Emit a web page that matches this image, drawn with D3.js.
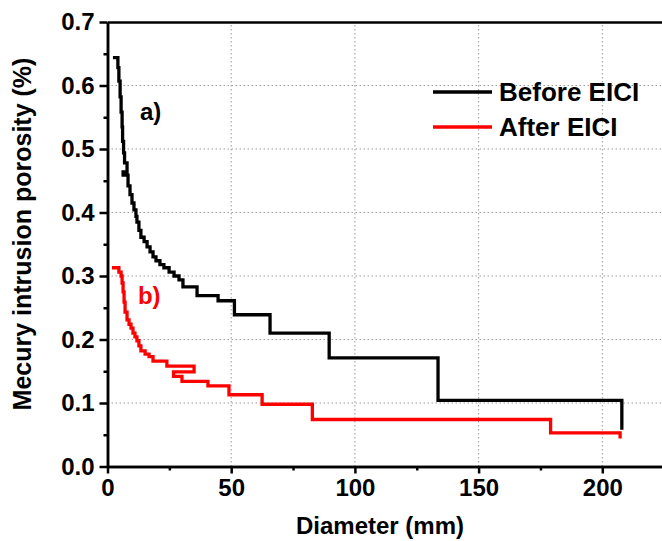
<!DOCTYPE html>
<html>
<head>
<meta charset="utf-8">
<script src="https://cdn.jsdelivr.net/npm/d3@7"></script>
<style>
  body { margin: 0; background: #fff; }
  text { font-family: "Liberation Sans", Arial, sans-serif; font-weight: bold; }
</style>
</head>
<body>
<svg id="chart" width="662" height="541"></svg>
<script>
// step curves (left end of each level)
const beforeDiameter = [2.2, 4.2, 4.6, 5.1, 5.5, 5.9, 6.1, 6.5, 6.9, 7.9, 6.3, 8.3, 9.1, 9.9, 10.7, 11.5, 11.9, 12.7, 13.5, 14.8, 16.0, 17.2, 18.4, 19.6, 21.2, 22.8, 24.9, 26.9, 28.9, 30.5, 36.2, 44.7, 51.3, 65.7, 89.6, 133.6, 207.9];
const beforePorosity = [0.644, 0.628, 0.607, 0.582, 0.558, 0.535, 0.512, 0.494, 0.478, 0.464, 0.459, 0.442, 0.428, 0.415, 0.404, 0.394, 0.385, 0.372, 0.361, 0.354, 0.346, 0.338, 0.330, 0.324, 0.318, 0.313, 0.306, 0.300, 0.294, 0.283, 0.269, 0.261, 0.239, 0.210, 0.171, 0.104, 0.058];

const afterDiameter = [1.8, 4.6, 5.5, 5.9, 6.3, 6.7, 7.1, 7.9, 8.7, 9.5, 10.3, 11.1, 11.9, 12.7, 13.5, 15.2, 16.8, 18.4, 24.0, 35.0, 26.7, 30.1, 40.6, 49.1, 62.5, 82.8, 179.1, 207.2];
const afterPorosity = [0.313, 0.306, 0.300, 0.289, 0.275, 0.259, 0.243, 0.231, 0.224, 0.218, 0.210, 0.204, 0.198, 0.190, 0.182, 0.177, 0.173, 0.166, 0.158, 0.149, 0.142, 0.134, 0.127, 0.113, 0.098, 0.074, 0.053, 0.044];

const xTicks = [0, 50, 100, 150, 200];
const xMinorTicks = [25, 75, 125, 175, 225];
const yTicks = [0, 0.1, 0.2, 0.3, 0.4, 0.5, 0.6, 0.7];
const yMinorTicks = [0.05, 0.15, 0.25, 0.35, 0.45, 0.55, 0.65];

const seriesNames = ["Before EICI", "After EICI"];
const seriesColors = ["#000000", "#ff0000"];

const width = 662;
const height = 541;
const margin = { left: 107.5, top: 22, bottom: 74.5 };

const svg = d3.select("#chart");

const x = d3.scaleLinear().domain([0, 225]).range([margin.left, margin.left + 225 * 2.474]);
const y = d3.scaleLinear().domain([0, 0.7]).range([height - margin.bottom, margin.top]);

// dotted grid
svg.append("g")
  .selectAll("line")
  .data(xTicks.slice(1))
  .enter()
  .append("line")
  .attr("x1", (d) => x(d))
  .attr("x2", (d) => x(d))
  .attr("y1", y(0))
  .attr("y2", y(0.7))
  .attr("stroke", "#999")
  .attr("stroke-width", 1)
  .attr("stroke-dasharray", "1.5,2.5");

svg.append("g")
  .selectAll("line")
  .data(yTicks.slice(1, -1))
  .enter()
  .append("line")
  .attr("x1", x(0))
  .attr("x2", width)
  .attr("y1", (d) => y(d))
  .attr("y2", (d) => y(d))
  .attr("stroke", "#999")
  .attr("stroke-width", 1)
  .attr("stroke-dasharray", "1.5,2.5");

// curves
const line = d3.line()
  .x((d) => x(d[0]))
  .y((d) => y(d[1]))
  .curve(d3.curveStepAfter);

const series = [
  d3.zip(beforeDiameter, beforePorosity),
  d3.zip(afterDiameter, afterPorosity)
];

svg.append("g")
  .selectAll("path")
  .data(series)
  .enter()
  .append("path")
  .attr("d", line)
  .attr("fill", "none")
  .attr("stroke", (d, i) => seriesColors[i])
  .attr("stroke-width", 3.3)
  .attr("stroke-linejoin", "miter");

// axes
function styleAxis(g) {
  g.select(".domain").attr("stroke", "#000").attr("stroke-width", 2.5);
  g.selectAll(".tick line").attr("stroke", "#000").attr("stroke-width", 2.5);
  g.selectAll(".tick text").attr("fill", "#000").attr("font-size", 24).attr("font-family", null);
}

svg.append("g")
  .attr("transform", `translate(0,${y(0)})`)
  .call(d3.axisBottom(x).tickValues(xTicks).tickSize(7).tickSizeOuter(0).tickPadding(5))
  .call(styleAxis);

svg.append("g")
  .attr("transform", `translate(0,${y(0)})`)
  .call(d3.axisBottom(x).tickValues(xMinorTicks).tickSize(4).tickSizeOuter(0).tickFormat(""))
  .call(styleAxis);

svg.append("g")
  .attr("transform", `translate(${x(0)},0)`)
  .call(d3.axisLeft(y).tickValues(yTicks).tickSize(8).tickSizeOuter(0).tickPadding(5).tickFormat(d3.format(".1f")))
  .call(styleAxis);

svg.append("g")
  .attr("transform", `translate(${x(0)},0)`)
  .call(d3.axisLeft(y).tickValues(yMinorTicks).tickSize(4).tickSizeOuter(0).tickFormat(""))
  .call(styleAxis);

svg.append("g")
  .attr("transform", `translate(0,${y(0.7)})`)
  .call(d3.axisTop(x).tickValues([]).tickSizeOuter(0))
  .call(styleAxis);

// axis titles
svg.append("text")
  .attr("x", 380)
  .attr("y", 534)
  .attr("text-anchor", "middle")
  .attr("font-size", 24)
  .text("Diameter (mm)");

svg.append("text")
  .attr("transform", `translate(31,${234}) rotate(-90)`)
  .attr("text-anchor", "middle")
  .attr("font-size", 25)
  .text("Mecury intrusion porosity (%)");

// curve labels
svg.append("text")
  .attr("x", x(13.1))
  .attr("y", y(0.546))
  .attr("font-size", 24)
  .attr("fill", seriesColors[0])
  .text("a)");

svg.append("text")
  .attr("x", x(12.3))
  .attr("y", y(0.256))
  .attr("font-size", 24)
  .attr("fill", seriesColors[1])
  .text("b)");

// legend
const legend = svg.append("g")
  .selectAll("g")
  .data(seriesNames)
  .enter()
  .append("g")
  .attr("transform", (d, i) => `translate(433,${92 + i * 35})`);

legend.append("line")
  .attr("x1", 0)
  .attr("x2", 59)
  .attr("stroke", (d, i) => seriesColors[i])
  .attr("stroke-width", 3.3);

legend.append("text")
  .attr("x", 66)
  .attr("dy", "0.36em")
  .attr("font-size", 26)
  .text((d) => d);
</script>
</body>
</html>
